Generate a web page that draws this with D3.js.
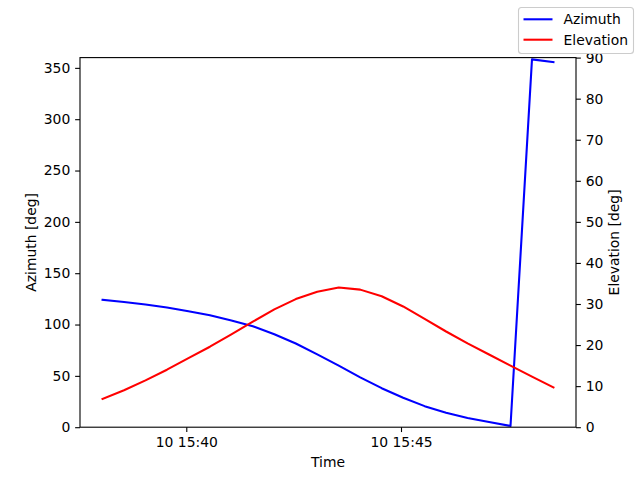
<!DOCTYPE html>
<html>
<head>
<meta charset="utf-8">
<script src="https://cdn.jsdelivr.net/npm/d3@7"></script>
<style>
  body { margin: 0; background: #fff; }
  text { font-family: "DejaVu Sans", sans-serif; }
</style>
</head>
<body>
<div id="chart"></div>
<script>
// sample times (UTC), every 30 s
const times = [
    "2024-01-10 15:38:03", "2024-01-10 15:38:33", "2024-01-10 15:39:03", "2024-01-10 15:39:33",
    "2024-01-10 15:40:03", "2024-01-10 15:40:33", "2024-01-10 15:41:03", "2024-01-10 15:41:33",
    "2024-01-10 15:42:03", "2024-01-10 15:42:33", "2024-01-10 15:43:03", "2024-01-10 15:43:33",
    "2024-01-10 15:44:03", "2024-01-10 15:44:33", "2024-01-10 15:45:03", "2024-01-10 15:45:33",
    "2024-01-10 15:46:03", "2024-01-10 15:46:33", "2024-01-10 15:47:03", "2024-01-10 15:47:33",
    "2024-01-10 15:48:03", "2024-01-10 15:48:33"
]
const azimuth = [124, 122, 119.5, 116.5, 113, 109, 104, 98.3, 90.5, 81.5, 71,
                 60, 48.5, 38, 28.7, 20.5, 14, 9, 5, 1.2, 358.3, 355.6]
const elevation = [6.9, 9.0, 11.4, 14.0, 16.8, 19.6, 22.6, 25.7, 28.7, 31.2, 33.0,
                   34.0, 33.5, 31.9, 29.4, 26.4, 23.3, 20.4, 17.7, 15.0, 12.3, 9.7]
const timeTicks = ["2024-01-10 15:40:00", "2024-01-10 15:45:00"]
const azTicks = [0, 50, 100, 150, 200, 250, 300, 350]
const elTicks = [0, 10, 20, 30, 40, 50, 60, 70, 80, 90]

const width = 640, height = 480
const margin = {left: 80, right: 64, top: 57.6, bottom: 52.8}
const fs = 13.9
const tick = 4.86

const parse = d3.utcParse("%Y-%m-%d %H:%M:%S")
const t = times.map(parse)

const svg = d3.select("#chart").append("svg")
    .attr("width", width)
    .attr("height", height)

// matplotlib style 5% margins on x
let [t0, t1] = d3.extent(t)
let pad = (t1 - t0) * 0.05
const x = d3.scaleUtc()
    .domain([new Date(+t0 - pad), new Date(+t1 + pad)])
    .range([margin.left, width - margin.right])
const yAz = d3.scaleLinear().domain([0, 360]).range([height - margin.bottom, margin.top])
const yEl = d3.scaleLinear().domain([0, 90]).range([height - margin.bottom, margin.top])

function styleAxis(g) {
    g.select(".domain").remove()
    g.selectAll(".tick line").attr("stroke", "#000").attr("stroke-width", 1.1)
    g.selectAll(".tick text").attr("font-size", fs).attr("fill", "#000")
        .attr("font-family", "DejaVu Sans")
}

svg.append("g")
    .attr("transform", `translate(0,${height - margin.bottom})`)
    .call(d3.axisBottom(x).tickValues(timeTicks.map(parse))
        .tickFormat(d3.utcFormat("%d %H:%M")).tickSize(tick).tickPadding(tick))
    .call(styleAxis)

svg.append("g")
    .attr("transform", `translate(${margin.left},0)`)
    .call(d3.axisLeft(yAz).tickValues(azTicks).tickSize(tick).tickPadding(tick))
    .call(styleAxis)

svg.append("g")
    .attr("transform", `translate(${width - margin.right},0)`)
    .call(d3.axisRight(yEl).tickValues(elTicks).tickSize(tick).tickPadding(tick))
    .call(styleAxis)

// lines
const azLine = d3.line().x((d, i) => x(t[i])).y(d => yAz(d))
const elLine = d3.line().x((d, i) => x(t[i])).y(d => yEl(d))

svg.append("path")
    .datum(azimuth)
    .attr("d", azLine)
    .attr("fill", "none")
    .attr("stroke", "#0000ff")
    .attr("stroke-width", 2.08)
    .attr("stroke-linejoin", "round")
    .attr("stroke-linecap", "square")

svg.append("path")
    .datum(elevation)
    .attr("d", elLine)
    .attr("fill", "none")
    .attr("stroke", "#ff0000")
    .attr("stroke-width", 2.08)
    .attr("stroke-linejoin", "round")
    .attr("stroke-linecap", "square")

// frame
svg.append("rect")
    .attr("x", margin.left)
    .attr("y", margin.top)
    .attr("width", width - margin.left - margin.right)
    .attr("height", height - margin.top - margin.bottom)
    .attr("fill", "none")
    .attr("stroke", "#000")
    .attr("stroke-width", 1.1)

// axis labels
svg.append("text")
    .attr("x", (margin.left + width - margin.right) / 2)
    .attr("y", 467)
    .attr("text-anchor", "middle")
    .attr("font-size", fs)
    .text("Time")

let midY = (margin.top + height - margin.bottom) / 2
svg.append("text")
    .attr("transform", `translate(36,${midY}) rotate(-90)`)
    .attr("text-anchor", "middle")
    .attr("font-size", fs)
    .text("Azimuth [deg]")

svg.append("text")
    .attr("transform", `translate(618.5,${midY}) rotate(-90)`)
    .attr("text-anchor", "middle")
    .attr("font-size", fs)
    .text("Elevation [deg]")

// legend (figure upper right)
let legend = svg.append("g")
legend.append("rect")
    .attr("x", 518.5)
    .attr("y", 7.5)
    .attr("width", 115)
    .attr("height", 46)
    .attr("rx", 3)
    .attr("fill", "#fff")
    .attr("fill-opacity", 0.8)
    .attr("stroke", "#cccccc")
    .attr("stroke-width", 1.1)

const legendItems = [["Azimuth", "#0000ff"], ["Elevation", "#ff0000"]]
legendItems.forEach(([name, color], i) => {
    let cy = 19.3 + i * 20.4
    legend.append("line")
        .attr("x1", 523.5).attr("x2", 552.5)
        .attr("y1", cy).attr("y2", cy)
        .attr("stroke", color)
        .attr("stroke-width", 2.08)
    legend.append("text")
        .attr("x", 563.5)
        .attr("y", cy + 5)
        .attr("font-size", fs)
        .text(name)
})
</script>
</body>
</html>
